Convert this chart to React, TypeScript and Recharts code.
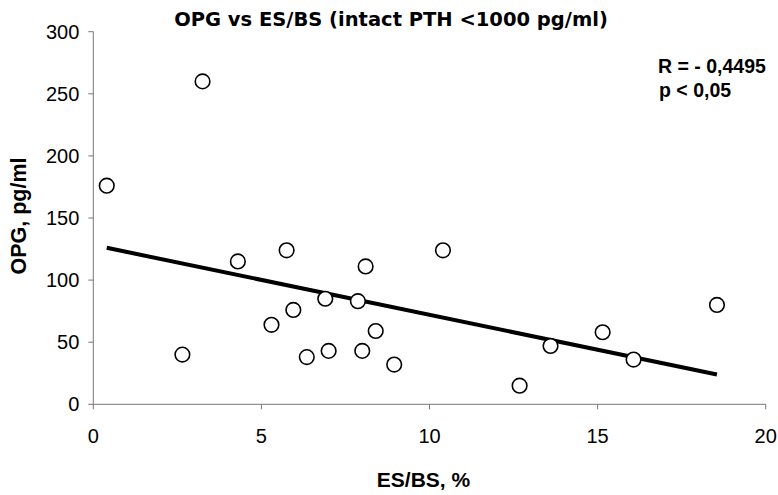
import React from 'react';
import { ScatterChart, Scatter, XAxis, YAxis, ReferenceLine, Customized } from 'recharts';

const esbs = [0.4, 3.25, 2.65, 4.3, 5.75, 5.3, 5.95, 6.35, 6.9, 7.0, 7.87, 8.0, 8.1, 8.4, 8.95, 10.4, 12.68, 13.6, 15.15, 16.07, 18.55];
const opg = [176, 260, 40, 115, 124, 64, 76, 38, 85, 43, 83, 43, 111, 59, 32, 124, 15, 47, 58, 36, 80];
const trendX = [0.4, 18.55];
const trendY = [126, 24];
const xTicks = [0, 5, 10, 15, 20];
const yTicks = [0, 50, 100, 150, 200, 250, 300];

const points = esbs.map((x, i) => ({ x, y: opg[i] }));

const TITLE = 'OPG vs ES/BS (intact PTH <1000 pg/ml)';
const R_TEXT = 'R = - 0,4495';
const P_TEXT = 'p < 0,05';
const Y_LABEL = 'OPG, pg/ml';
const X_LABEL = 'ES/BS, %';

const arial = 'Liberation Sans, Arial, sans-serif';
const titleFont = 'DejaVu Sans';

const Circle = (props: any) => {
  const { cx, cy } = props;
  if (cx == null || cy == null) return null;
  return <circle cx={cx} cy={cy} r={7.3} fill="#fff" stroke="#000" strokeWidth={1.6} />;
};

const Texts = () => (
  <g>
    <text x={391} y={26} textAnchor="middle" fontFamily={titleFont} fontWeight="bold" fontSize={19.5} fill="#000">{TITLE}</text>
    <text x={658} y={73} fontFamily={arial} fontWeight="bold" fontSize={19.5} fill="#000">{R_TEXT}</text>
    <text x={659} y={97} fontFamily={arial} fontWeight="bold" fontSize={19.5} fill="#000">{P_TEXT}</text>
    <text x={423.5} y={487} textAnchor="middle" fontFamily={arial} fontWeight="bold" fontSize={21} fill="#000">{X_LABEL}</text>
    <text x={26} y={216} transform="rotate(-90 26 216)" textAnchor="middle" fontFamily={arial} fontWeight="bold" fontSize={21.5} fill="#000">{Y_LABEL}</text>
  </g>
);

export default function App() {
  return (
    <div style={{ position: 'absolute', left: 0, top: 0, width: 778, height: 495, background: '#fff' }}>
      <ScatterChart width={778} height={495} margin={{ top: 31.7, right: 12.3, bottom: 0, left: 0 }}>
        <XAxis
          type="number"
          dataKey="x"
          domain={[0, 20]}
          ticks={xTicks}
          height={90.7}
          tickSize={5}
          tickMargin={19}
          axisLine={{ stroke: '#777', strokeWidth: 1 }}
          tickLine={{ stroke: '#777' }}
          tick={{ fill: '#000', fontSize: 20, fontFamily: arial }}
          allowDataOverflow
        />
        <YAxis
          type="number"
          dataKey="y"
          domain={[0, 300]}
          ticks={yTicks}
          width={93.3}
          tickSize={5}
          tickMargin={9}
          axisLine={{ stroke: '#777', strokeWidth: 1 }}
          tickLine={{ stroke: '#777' }}
          tick={{ fill: '#000', fontSize: 20, fontFamily: arial }}
          allowDataOverflow
        />
        <ReferenceLine
          segment={[{ x: trendX[0], y: trendY[0] }, { x: trendX[1], y: trendY[1] }]}
          stroke="#000"
          strokeWidth={4}
        />
        <Scatter data={points} shape={Circle} isAnimationActive={false} />
        <Customized component={Texts} />
      </ScatterChart>
    </div>
  );
}
